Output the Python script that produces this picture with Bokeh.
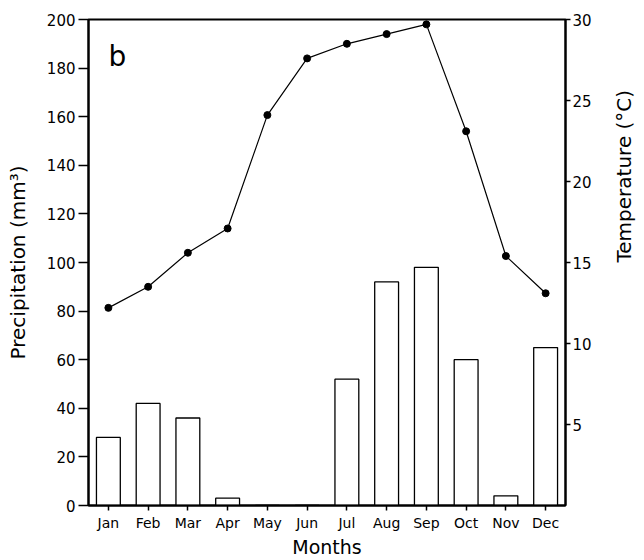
import math
from bokeh.plotting import figure
from bokeh.models import Range1d, LinearAxis, FixedTicker, ColumnDataSource, Label
from bokeh.embed import file_html
from bokeh.resources import INLINE

months = ["Jan", "Feb", "Mar", "Apr", "May", "Jun", "Jul", "Aug", "Sep", "Oct", "Nov", "Dec"]
precip = [28, 42, 36, 3, 0, 0, 52, 92, 98, 60, 4, 65]
temp = [12.2, 13.5, 15.6, 17.1, 24.1, 27.6, 28.5, 29.1, 29.7, 23.1, 15.4, 13.1]
precip_ticks = [0, 20, 40, 60, 80, 100, 120, 140, 160, 180, 200]
temp_ticks = [5, 10, 15, 20, 25, 30]

FONT = "DejaVu Sans"

p = figure(x_range=months, y_range=Range1d(0, 200),
           frame_width=477, frame_height=486,
           min_border_left=88, min_border_top=19, min_border_right=76, min_border_bottom=50,
           output_backend="svg", toolbar_location=None)
p.extra_y_ranges = {"temp": Range1d(0, 30)}
p.x_range.range_padding = 0

src_b = ColumnDataSource(dict(m=months, v=precip))
p.vbar(x="m", top="v", width=0.6, bottom=0, source=src_b,
       fill_color="white", line_color="black", line_width=1.3)

src_t = ColumnDataSource(dict(m=months, t=temp))
p.line(x="m", y="t", source=src_t, y_range_name="temp", line_color="black", line_width=1.2)
p.scatter(x="m", y="t", source=src_t, y_range_name="temp", size=7,
          fill_color="black", line_color="black")

p.xgrid.visible = False
p.ygrid.visible = False
p.outline_line_color = "black"
p.outline_line_width = 2

def style(ax, label_size):
    ax.minor_tick_line_color = None
    ax.major_tick_in = 0
    ax.axis_line_width = 2
    ax.axis_line_color = "black"
    ax.major_tick_line_color = "black"
    ax.major_tick_line_width = 1.5
    ax.major_label_text_font = FONT
    ax.major_label_text_color = "black"
    ax.axis_label_text_font = FONT
    ax.axis_label_text_color = "black"
    ax.axis_label_text_font_size = label_size
    ax.axis_label_text_font_style = "normal"

# left axis
ya = p.yaxis[0]
ya.ticker = FixedTicker(ticks=precip_ticks)
ya.axis_label = "Precipitation (mm³)"
style(ya, "20px")
ya.major_tick_out = 10
ya.major_label_standoff = 3
ya.major_label_text_font_size = "15px"
ya.axis_label_standoff = 14

# right axis
ra = LinearAxis(y_range_name="temp", ticker=FixedTicker(ticks=temp_ticks),
                axis_label="Temperature (°C)")
style(ra, "20px")
ra.major_tick_out = 5
ra.major_label_standoff = 2
ra.major_label_text_font_size = "15px"
ra.axis_label_standoff = 29
ra.axis_label_orientation = math.pi / 2
p.add_layout(ra, "right")

# x axis
xa = p.xaxis[0]
xa.axis_label = "Months"
style(xa, "19px")
xa.major_tick_out = 5
xa.major_label_text_font_size = "14px"
xa.axis_label_standoff = 2
xa.major_label_standoff = 4

p.add_layout(Label(x=0.5, y=178, text="b", text_font=FONT, text_font_size="28px",
                   text_color="black"))

open("out.html", "w").write(file_html(p, INLINE))
